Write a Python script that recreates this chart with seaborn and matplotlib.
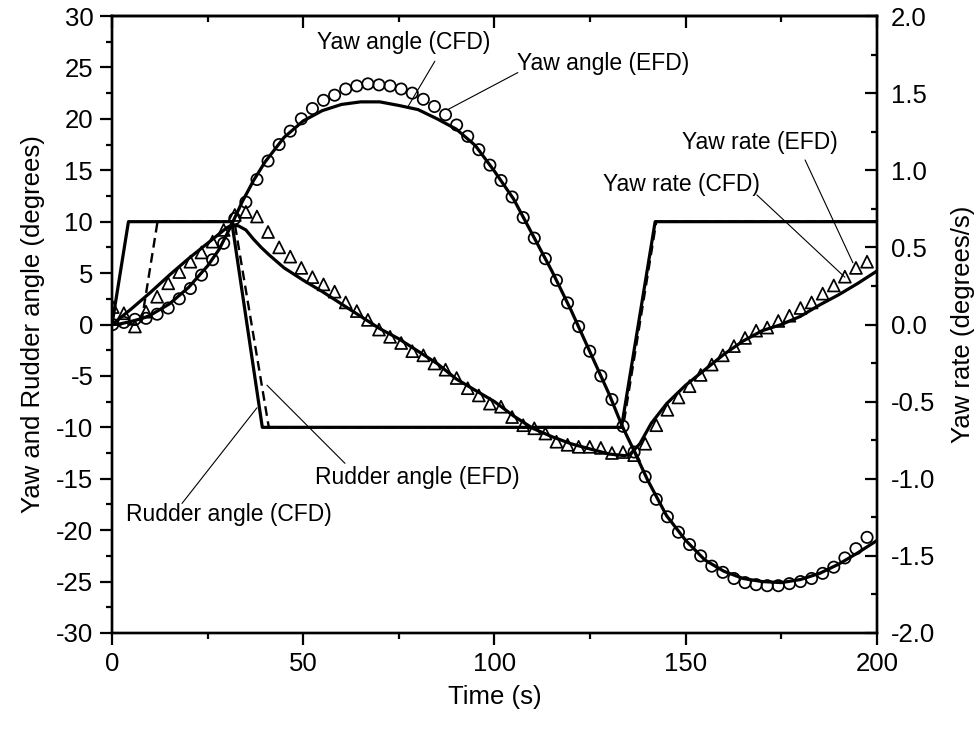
import numpy as np
import pandas as pd
import matplotlib
matplotlib.use("Agg")
import matplotlib.pyplot as plt
import seaborn as sns
from matplotlib.ticker import MultipleLocator, FormatStrFormatter

# ---------------- data ----------------
# rudder angle (degrees)
rudder_cfd_t = [0, 4.3, 31.3, 39.3, 133.2, 142.0, 200]
rudder_cfd = [0, 10, 10, -10, -10, 10, 10]
rudder_efd_t = [0, 7.6, 11.9, 32.0, 41.0, 133.6, 142.3, 200]
rudder_efd = [0, 0, 10, 10, -10, -10, 10, 10]

# yaw angle CFD (degrees)
yaw_cfd_t = [0, 2, 5, 8, 10, 15, 20, 25, 28, 31, 34, 37, 40, 45, 50, 55, 60, 65, 70,
             75, 80, 85, 90, 95, 100, 105, 110, 115, 120, 125, 130, 133.4, 136, 140,
             145, 150, 155, 160, 165, 170, 175, 180, 185, 190, 195, 200]
yaw_cfd = [0, 0.05, 0.3, 0.6, 0.9, 2.0, 3.6, 5.7, 7.3, 9.5, 11.9, 14.0, 15.8, 18.2,
           19.8, 20.8, 21.4, 21.65, 21.65, 21.3, 20.9, 20.0, 19.0, 17.4, 14.9, 12.2,
           8.7, 5.2, 1.4, -2.7, -6.8, -9.9, -11.9, -15.1, -18.6, -21.0, -22.9, -24.0,
           -24.7, -25.0, -25.1, -24.8, -24.2, -23.3, -22.2, -21.0]

# yaw rate CFD (degrees/s)
rate_cfd_t = [0, 5, 10, 15, 20, 25, 28, 30, 31.3, 33, 35, 37, 39, 41, 45, 50, 55, 60,
              65, 70, 75, 80, 85, 90, 95, 100, 105, 110, 115, 120, 125, 130, 134,
              135.5, 138, 141, 145, 150, 155, 160, 165, 170, 175, 180, 185, 190, 195, 200]
rate_cfd = [0, 0.100, 0.207, 0.320, 0.427, 0.527, 0.587, 0.627, 0.645, 0.640, 0.613,
            0.553, 0.500, 0.453, 0.367, 0.287, 0.213, 0.133, 0.053, -0.027, -0.093,
            -0.173, -0.253, -0.353, -0.427, -0.500, -0.593, -0.673, -0.727, -0.773,
            -0.807, -0.840, -0.850, -0.840, -0.773, -0.640, -0.513, -0.393, -0.293,
            -0.193, -0.107, -0.040, 0.000, 0.053, 0.127, 0.193, 0.267, 0.347]

# EFD sample times (s)
efd_t = [0.2, 3.1, 6.0, 8.9, 11.8, 14.7, 17.6, 20.5, 23.4, 26.3, 29.2, 32.1, 35.0,
         37.9, 40.8, 43.7, 46.6, 49.5, 52.4, 55.3, 58.2, 61.1, 64.0, 66.9, 69.8, 72.7,
         75.6, 78.5, 81.4, 84.3, 87.2, 90.1, 93.0, 95.9, 98.8, 101.7, 104.6, 107.5,
         110.4, 113.3, 116.2, 119.1, 122.0, 124.9, 127.8, 130.7, 133.6, 136.5, 139.4,
         142.3, 145.2, 148.1, 151.0, 153.9, 156.8, 159.7, 162.6, 165.5, 168.4, 171.3,
         174.2, 177.1, 180.0, 182.9, 185.8, 188.7, 191.6, 194.5, 197.4]
# yaw angle EFD (degrees)
yaw_efd = [0.0, 0.2, 0.5, 0.6, 1.0, 1.6, 2.5, 3.5, 4.8, 6.3,
           7.9, 10.3, 11.9, 14.1, 15.9, 17.5, 18.8, 20.0, 21.0, 21.8,
           22.3, 22.9, 23.2, 23.4, 23.3, 23.2, 22.9, 22.5, 21.9, 21.2,
           20.4, 19.4, 18.3, 17.0, 15.5, 14.0, 12.4, 10.4, 8.4, 6.4,
           4.3, 2.1, -0.2, -2.6, -5.0, -7.3, -9.9, -12.4, -14.8, -17.0,
           -18.7, -20.2, -21.4, -22.5, -23.5, -24.1, -24.7, -25.1, -25.3, -25.4,
           -25.4, -25.2, -25.0, -24.7, -24.2, -23.6, -22.7, -21.8, -20.7]
# yaw rate EFD (degrees/s)
rate_efd = [0.113, 0.073, -0.013, 0.083, 0.180, 0.267, 0.340, 0.407, 0.467, 0.537,
            0.613, 0.710, 0.730, 0.700, 0.600, 0.500, 0.440, 0.367, 0.307, 0.260,
            0.213, 0.143, 0.087, 0.030, -0.033, -0.080, -0.120, -0.173, -0.200, -0.253,
            -0.293, -0.347, -0.413, -0.460, -0.513, -0.533, -0.600, -0.653, -0.673, -0.707,
            -0.760, -0.780, -0.793, -0.793, -0.800, -0.833, -0.827, -0.847, -0.773, -0.653,
            -0.553, -0.473, -0.400, -0.327, -0.260, -0.200, -0.140, -0.087, -0.040, -0.020,
            0.023, 0.057, 0.107, 0.143, 0.200, 0.253, 0.310, 0.367, 0.407]

# ---------------- style ----------------
sns.set_style("ticks")
plt.rcParams["font.family"] = ["Liberation Sans", "DejaVu Sans"]
plt.rcParams["axes.unicode_minus"] = False
plt.rcParams["lines.scale_dashes"] = False
for key in ["text.color", "axes.labelcolor", "xtick.color", "ytick.color",
            "axes.edgecolor"]:
    plt.rcParams[key] = "black"

TICK_FS = 18.5
LABEL_FS = 18.5
ANN_FS = 16.5
LW = 2.3
SPINE_LW = 1.7

fig = plt.figure(figsize=(9.79, 7.29), dpi=100)
ax = fig.add_axes([112 / 979, 1 - 633 / 729, 765 / 979, 617 / 729])
ax2 = ax.twinx()

# rudder angles
sns.lineplot(x=rudder_cfd_t, y=rudder_cfd, ax=ax, color="black", lw=LW,
             estimator=None, sort=False)
sns.lineplot(x=rudder_efd_t, y=rudder_efd, ax=ax, color="black", lw=1.7,
             estimator=None, sort=False)
ax.lines[-1].set_dashes([7.0, 4.0])

# yaw angle
sns.lineplot(x=yaw_cfd_t, y=yaw_cfd, ax=ax, color="black", lw=LW,
             estimator=None, sort=False)
sns.scatterplot(x=efd_t, y=yaw_efd, ax=ax, marker="o", s=66,
                facecolor="none", edgecolor="black", linewidth=1.25, zorder=3)

# yaw rate
sns.lineplot(x=rate_cfd_t, y=rate_cfd, ax=ax2, color="black", lw=LW,
             estimator=None, sort=False)
sns.scatterplot(x=efd_t, y=rate_efd, ax=ax2, marker="^", s=74,
                facecolor="none", edgecolor="black", linewidth=1.25, zorder=3)

# ---------------- axes ----------------
ax.set_xlim(0, 200)
ax.set_ylim(-30, 30)
ax2.set_ylim(-2.0, 2.0)

ax.xaxis.set_major_locator(MultipleLocator(50))
ax.xaxis.set_minor_locator(MultipleLocator(25))
ax.yaxis.set_major_locator(MultipleLocator(5))
ax.yaxis.set_minor_locator(MultipleLocator(2.5))
ax2.yaxis.set_major_locator(MultipleLocator(0.5))
ax2.yaxis.set_minor_locator(MultipleLocator(0.25))
ax2.yaxis.set_major_formatter(FormatStrFormatter("%.1f"))

ax.tick_params(axis="both", which="major", direction="out", length=8.5, width=1.6,
               labelsize=TICK_FS, pad=5, top=False, right=False, colors="black")
ax.tick_params(axis="both", which="minor", direction="out", length=4, width=1.6,
               top=False, right=False)
ax2.tick_params(axis="y", which="major", direction="in", length=8.5, width=1.6,
                labelsize=TICK_FS, pad=10, left=False, right=True, colors="black")
ax2.tick_params(axis="y", which="minor", direction="in", length=4, width=1.6,
                left=False, right=True)

topax = ax.secondary_xaxis("top")
topax.xaxis.set_major_locator(MultipleLocator(50))
topax.xaxis.set_minor_locator(MultipleLocator(25))
topax.tick_params(axis="x", which="major", direction="in", length=8.5, width=1.6,
                  labeltop=False)
topax.tick_params(axis="x", which="minor", direction="in", length=4, width=1.6)

for a in (ax, ax2, topax):
    for sp in a.spines.values():
        sp.set_linewidth(SPINE_LW)
        sp.set_color("black")

ax.set_xlabel("Time (s)", fontsize=LABEL_FS, labelpad=7)
ax.set_ylabel("Yaw and Rudder angle (degrees)", fontsize=LABEL_FS, labelpad=8)
ax2.set_ylabel("Yaw rate (degrees/s)", fontsize=LABEL_FS, labelpad=11)

# ---------------- annotations ----------------
ann = dict(arrowstyle="-", lw=0.8, color="black", shrinkA=0, shrinkB=0)
labels = [
    ("Yaw angle (CFD)", (53.6, 27.4), (84.4, 25.6), (77.4, 21.2)),
    ("Yaw angle (EFD)", (105.9, 25.4), (106.1, 24.5), (87.8, 20.9)),
    ("Yaw rate (EFD)", (149.0, 17.65), (181.2, 16.0), (193.7, 6.0)),
    ("Yaw rate (CFD)", (128.4, 13.6), (168.6, 12.6), (191.6, 4.6)),
    ("Rudder angle (EFD)", (53.1, -14.9), (60.9, -13.5), (40.5, -5.9)),
    ("Rudder angle (CFD)", (3.7, -18.5), (18.3, -17.4), (37.9, -8.1)),
]
for txt, tpos, a0, a1 in labels:
    ax.text(tpos[0], tpos[1], txt, fontsize=ANN_FS, ha="left", va="center",
            color="black")
    ax.annotate("", xy=a1, xytext=a0, arrowprops=ann)

fig.savefig("out.png", dpi=100)
